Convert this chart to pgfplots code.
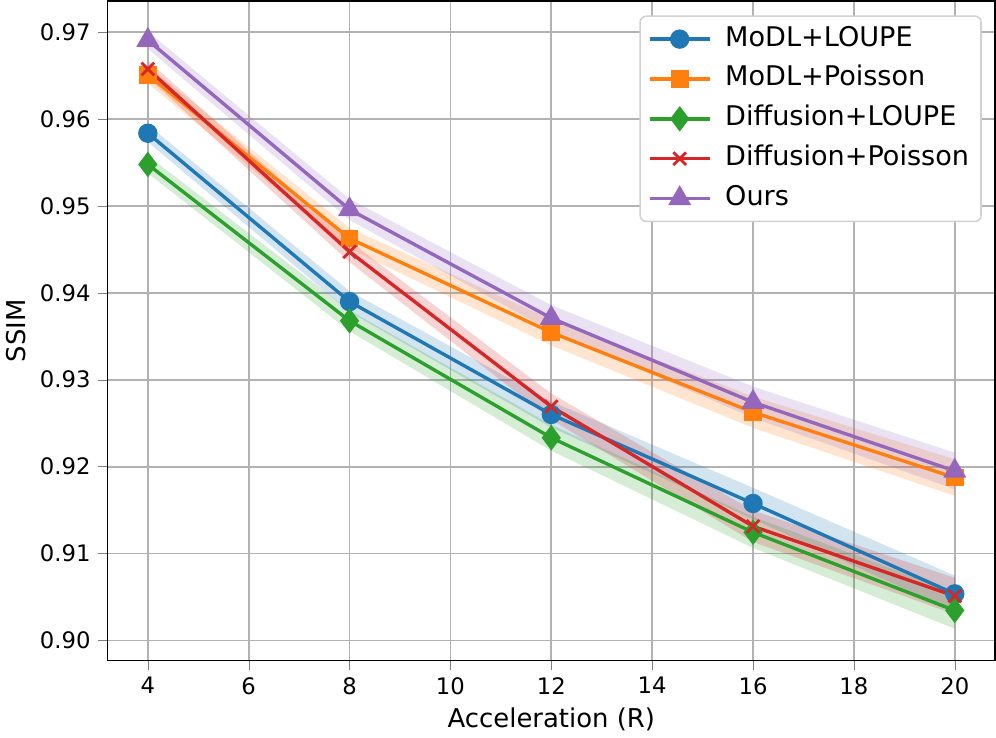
\documentclass[border=0pt]{standalone}
\usepackage{fontspec}
\setmainfont{DejaVu Sans}
\usepackage{pgfplots}
\usepackage{pgfplotstable}
\pgfplotsset{compat=1.18}
\usepgfplotslibrary{fillbetween}

\definecolor{c0}{HTML}{1F77B4}
\definecolor{c1}{HTML}{FF7F0E}
\definecolor{c2}{HTML}{2CA02C}
\definecolor{c3}{HTML}{D62728}
\definecolor{c4}{HTML}{9467BD}

% SSIM per acceleration, s = band half-width
\pgfplotstableread{
x  loupe   poisson diffl   diffp   ours    s
4  0.95837 0.96510 0.95478 0.96576 0.96908 0.0010
8  0.93899 0.94626 0.93678 0.94473 0.94959 0.0012
12 0.92600 0.93544 0.92332 0.92691 0.93709 0.0015
16 0.91576 0.92626 0.91244 0.91313 0.92741 0.0018
20 0.90536 0.91874 0.90344 0.90510 0.91950 0.0021
}\ssim

\newcommand{\band}[2]{%
  \addplot[draw=none, forget plot, name path=#1u] table[x=x, y expr=\thisrow{#1}+\thisrow{s}] {\ssim};
  \addplot[draw=none, forget plot, name path=#1l] table[x=x, y expr=\thisrow{#1}-\thisrow{s}] {\ssim};
  \addplot[#2, fill opacity=0.2, draw=none, forget plot] fill between[of=#1u and #1l];
}

\begin{document}
\begin{tikzpicture}
\begin{axis}[
  scale only axis,
  width=445.5pt, height=331pt,
  xmin=3.2, xmax=20.8,
  ymin=0.8977, ymax=0.9736,
  xtick={4,6,...,20},
  ytick={0.90,0.91,...,0.97},
  yticklabel style={/pgf/number format/.cd, fixed, fixed zerofill, precision=2},
  /pgf/number format/assume math mode=true,
  tick label style={font=\fontsize{11.4}{13}\selectfont},
  label style={font=\fontsize{13}{15}\selectfont},
  xlabel={Acceleration (R)},
  ylabel={SSIM},
  tick align=outside,
  tick pos=left,
  major tick length=5pt,
  axis line style={line width=0.8pt},
  grid=major,
  grid style={color=black!30, line width=0.9pt},
  every axis plot/.append style={line width=1.7pt},
  legend image code/.code={
    \draw[mark repeat=2, mark phase=2] plot coordinates {(0pt,0pt) (15pt,0pt) (30pt,0pt)};},
  legend style={at={(0.985,0.978)}, anchor=north east,
    draw=black!18, rounded corners=3pt, line width=0.8pt,
    font=\fontsize{13.6}{16}\selectfont, row sep=3pt,
    nodes={text height=10pt, text depth=3pt},
    inner xsep=4pt, inner ysep=3pt,
    /tikz/every odd column/.append style={column sep=5pt}},
  legend cell align=left,
]
\band{loupe}{c0}
\addplot[c0, mark=*, mark size=4pt] table[x=x, y=loupe] {\ssim};
\addlegendentry{MoDL+LOUPE}
\band{poisson}{c1}
\addplot[c1, mark=square*, mark size=3.6pt] table[x=x, y=poisson] {\ssim};
\addlegendentry{MoDL+Poisson}
\band{diffl}{c2}
\addplot[c2, mark=diamond*, mark size=5pt] table[x=x, y=diffl] {\ssim};
\addlegendentry{Diffusion+LOUPE}
\band{diffp}{c3}
\addplot[c3, mark=x, mark size=4.5pt, mark options={line width=1.4pt}] table[x=x, y=diffp] {\ssim};
\addlegendentry{Diffusion+Poisson}
\band{ours}{c4}
\addplot[c4, mark=triangle*, mark size=5pt] table[x=x, y=ours] {\ssim};
\addlegendentry{Ours}
\end{axis}
\end{tikzpicture}
\end{document}
